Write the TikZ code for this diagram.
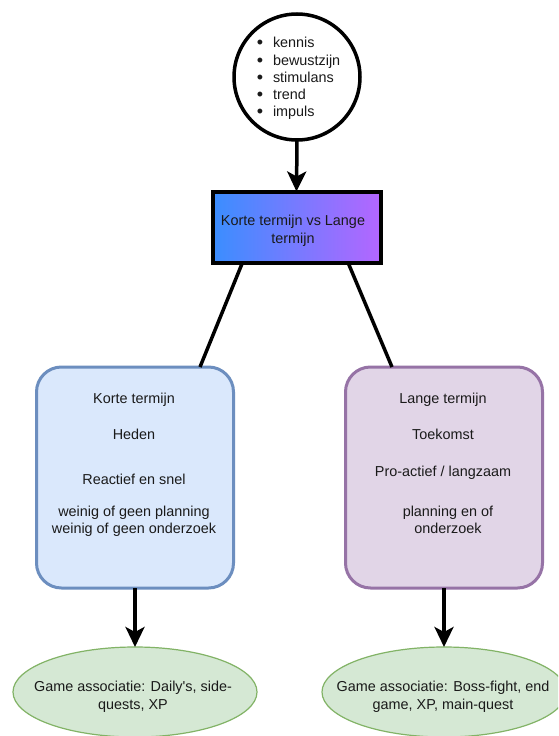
\documentclass[tikz,border=0pt]{standalone}
\usepackage{fontspec}
\setmainfont{Liberation Sans}
\usetikzlibrary{shapes.geometric,arrows.meta,calc}
\definecolor{gradL}{HTML}{3A8EFF}
\definecolor{gradR}{HTML}{B466FF}
\definecolor{blueFill}{HTML}{DAE8FC}
\definecolor{blueLine}{HTML}{6C8EBF}
\definecolor{purpFill}{HTML}{E1D5E7}
\definecolor{purpLine}{HTML}{9673A6}
\definecolor{greenFill}{HTML}{D5E8D4}
\definecolor{greenLine}{HTML}{82B366}
\definecolor{txt}{HTML}{1A1A1A}
\tikzset{
  lbl/.style={inner sep=0pt, outer sep=0pt, text=txt, font=\fontsize{14.4}{17}\selectfont, text height=10.5pt, text depth=3pt},
  bul/.style={inner sep=0pt, outer sep=0pt, text=txt, font=\fontsize{18}{20}\selectfont},
  conn/.style={line width=3.5pt, black},
  arr/.style={conn, -{Stealth[length=20pt,width=19pt,inset=5pt]}},
  startcircle/.style={circle, draw=black, line width=3.5pt, fill=white, minimum size=126pt, inner sep=0pt, outer sep=0pt},
  gradbox/.style={rectangle, draw=black, line width=4pt, left color=gradL, right color=gradR, minimum width=168pt, minimum height=71pt, inner sep=0pt, outer sep=0pt},
  termbox/.style={rectangle, rounded corners=25pt, line width=3pt, minimum width=197pt, minimum height=221pt, inner sep=0pt, outer sep=0pt},
  gameell/.style={ellipse, draw=greenLine, fill=greenFill, line width=1.2pt, minimum width=244pt, minimum height=90pt, inner sep=0pt, outer sep=0pt},
}
\begin{document}
\begin{tikzpicture}[x=1pt,y=-1pt]
\clip (0,0) rectangle (558,736);
\fill[white] (0,0) rectangle (558,736);

% shapes
\node[startcircle] (circ) at (297,77) {};
\node[gradbox] (rect) at (296.5,227) {};
\node[termbox, draw=blueLine, fill=blueFill] (lbox) at (135,477.5) {};
\node[termbox, draw=purpLine, fill=purpFill] (rbox) at (444,477.5) {};
\node[gameell] (lell) at (135,692) {};
\node[gameell] (rell) at (444,692) {};

% connectors
\draw[arr] (circ.south) -- (rect.north);
\draw[conn] ([xshift=-54pt]rect.south) -- ([xshift=65pt]lbox.north);
\draw[conn] ([xshift=51.5pt]rect.south) -- ([xshift=-52pt]rbox.north);
\draw[arr] (lbox.south) -- (lell.north);
\draw[arr] (rbox.south) -- (rell.north);

% circle bullets
\foreach \w/\y [count=\i] in {kennis/44, bewustzijn/62, stimulans/79, trend/96, impuls/113}{
  \node[bul] (b\i) at (260,\y) {•};
  \node[lbl, anchor=west] (w\i) at (273,\y) {\w};
}

% rect text
\node[lbl] (r1) at (293,222) {Korte termijn vs Lange};
\node[lbl] (r2) at (293,240) {termijn};

% left box text
\node[lbl] (l1) at (134,400) {Korte termijn};
\node[lbl] (l2) at (134,436) {Heden};
\node[lbl] (l3) at (134,481) {Reactief en snel};
\node[lbl] (l4) at (134,513) {weinig of geen planning};
\node[lbl] (l5) at (134,530) {weinig of geen onderzoek};

% right box text
\node[lbl] (q1) at (443,400) {Lange termijn};
\node[lbl] (q2) at (443,436) {Toekomst};
\node[lbl] (q3) at (443,473) {Pro-actief / langzaam};
\node[lbl] (q4) at (448,513) {planning en of};
\node[lbl] (q5) at (448,530) {onderzoek};

% ellipse text
\node[lbl] (e1) at (133,688) {Game associatie: Daily\textquotesingle s, side-};
\node[lbl] (e2) at (133,706) {quests, XP};
\node[lbl] (f1) at (443,688) {Game associatie: Boss-fight, end};
\node[lbl] (f2) at (443,706) {game, XP, main-quest};
\end{tikzpicture}
\end{document}
